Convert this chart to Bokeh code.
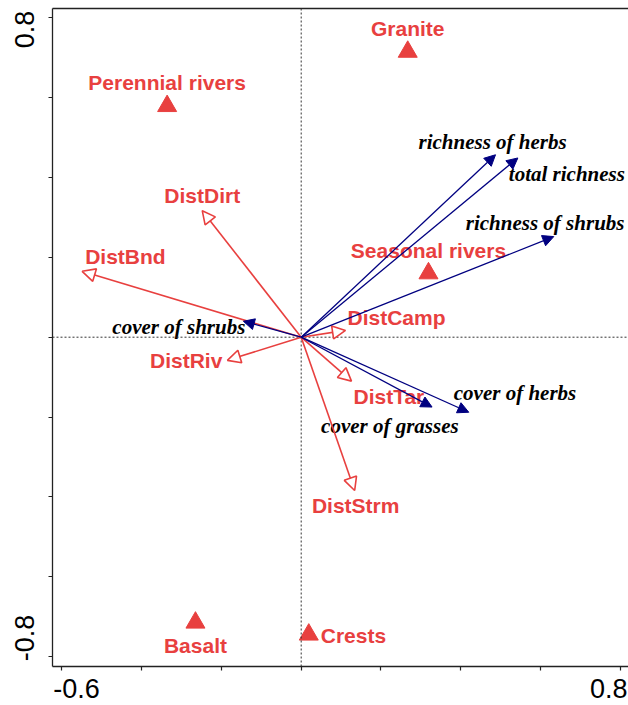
from bokeh.plotting import figure
from bokeh.models import (ColumnDataSource, Arrow, NormalHead, Span, LinearAxis,
                          FixedTicker, Range1d)
from bokeh.core.properties import value
from bokeh.embed import file_html
from bokeh.resources import INLINE

# ---------------- data ----------------
site_names = ["Granite", "Perennial rivers", "Seasonal rivers", "Basalt", "Crests"]
site_x = [0.267, -0.336, 0.319, -0.265, 0.019]
site_y = [0.715, 0.579, 0.160, -0.715, -0.745]

env_names = ["DistDirt", "DistBnd", "DistRiv", "DistCamp", "DistTar", "DistStrm"]
env_x = [-0.248, -0.549, -0.185, 0.111, 0.126, 0.134]
env_y = [0.317, 0.165, -0.058, 0.017, -0.110, -0.384]

sp_names = ["richness of herbs", "total richness", "richness of shrubs",
            "cover of shrubs", "cover of grasses", "cover of herbs"]
sp_x = [0.487, 0.543, 0.633, -0.145, 0.328, 0.420]
sp_y = [0.457, 0.449, 0.252, 0.040, -0.175, -0.188]

x_minor_ticks = [-0.6, -0.4, -0.2, 0.0, 0.2, 0.4, 0.6, 0.8]
y_minor_ticks = [-0.8, -0.6, -0.4, -0.2, 0.0, 0.2, 0.4, 0.6, 0.8]
x_tick_labels = ["-0.6", "0.8"]
y_tick_labels = ["0.8", "-0.8"]

# ---------------- layout / style ----------------
RED = "#e8403f"
NAVY = "#000080"
x_label_pos = [-0.563, 0.771]
y_label_pos = [0.771, -0.7535]

site_dx = [0, 0, 0, 0, 12]
site_dy = [-23, -24, -23, 23, 1]
site_align = ["center", "center", "center", "center", "left"]

env_dx = [0, 3, -5, 2, 2, 1]
env_dy = [-15, -15, 0, -13, 15, 15]
env_align = ["center", "left", "right", "left", "left", "center"]

sp_dx = [-77, -9, -88, 2, -111, -15]
sp_dy = [-13, 16, -14, 6, 19, -19]
sp_align = ["left", "left", "left", "right", "left", "left"]

p = figure(width=628, height=705, output_backend="svg", toolbar_location=None,
           x_range=Range1d(-0.6233, 0.8203), y_range=Range1d(-0.8249, 0.8234),
           x_axis_location=None, y_axis_location=None,
           min_border_left=52, min_border_right=0, min_border_top=8,
           min_border_bottom=39)
p.outline_line_color = None
p.xgrid.visible = False
p.ygrid.visible = False
p.background_fill_color = "white"
p.border_fill_color = "white"

def style_axis(ax, font_size):
    ax.axis_line_color = "#222222"
    ax.axis_line_width = 1.3
    ax.major_tick_line_color = None
    ax.major_tick_out = 0
    ax.major_tick_in = 0
    ax.minor_tick_line_color = "#222222"
    ax.minor_tick_line_width = 1.2
    ax.minor_tick_out = 4
    ax.minor_tick_in = 0
    ax.major_label_text_font = "Liberation Sans"
    ax.major_label_text_font_size = font_size
    ax.major_label_text_color = "black"

xax = LinearAxis(ticker=FixedTicker(ticks=x_label_pos, minor_ticks=x_minor_ticks),
                 major_label_overrides={v: t for v, t in zip(x_label_pos, x_tick_labels)})
style_axis(xax, "27px")
xax.major_label_standoff = 8
p.add_layout(xax, "below")

yax = LinearAxis(ticker=FixedTicker(ticks=y_label_pos, minor_ticks=y_minor_ticks),
                 major_label_overrides={v: t for v, t in zip(y_label_pos, y_tick_labels)},
                 major_label_orientation="vertical")
style_axis(yax, "27px")
yax.major_label_standoff = 14
p.add_layout(yax, "left")

top = LinearAxis(ticker=FixedTicker(ticks=[]), axis_line_color="#222222",
                 axis_line_width=1.3, major_tick_line_color=None,
                 minor_tick_line_color=None, major_label_text_font_size="0px",
                 major_tick_out=0, major_label_standoff=0)
p.add_layout(top, "above")

p.add_layout(Span(location=0, dimension="height", line_color="#333333",
                  line_dash="2 2", line_width=1))
p.add_layout(Span(location=0, dimension="width", line_color="#333333",
                  line_dash="2 2", line_width=1))

# environmental arrows (red, open heads)
env_src = ColumnDataSource(dict(x0=[0.0] * len(env_x), y0=[0.0] * len(env_y),
                                x1=env_x, y1=env_y, name=env_names,
                                dx=env_dx, dy=env_dy, align=env_align))
p.add_layout(Arrow(source=env_src, x_start="x0", y_start="y0", x_end="x1", y_end="y1",
                   line_color=RED, line_width=1.6,
                   end=NormalHead(size=13, fill_color="white", line_color=RED,
                                  line_width=1.6)))

# species arrows (navy, filled heads)
sp_src = ColumnDataSource(dict(x0=[0.0] * len(sp_x), y0=[0.0] * len(sp_y),
                               x1=sp_x, y1=sp_y, name=sp_names,
                               dx=sp_dx, dy=sp_dy, align=sp_align))
p.add_layout(Arrow(source=sp_src, x_start="x0", y_start="y0", x_end="x1", y_end="y1",
                   line_color=NAVY, line_width=1.3,
                   end=NormalHead(size=11, fill_color=NAVY, line_color=NAVY,
                                  line_width=1)))

# sites (red triangles)
site_src = ColumnDataSource(dict(x=site_x, y=site_y, name=site_names,
                                 dx=site_dx, dy=site_dy, align=site_align))
p.scatter("x", "y", source=site_src, marker="triangle", size=19,
          fill_color=RED, line_color=RED)

p.text("x", "y", text="name", source=site_src, x_offset="dx", y_offset="dy",
       text_align="align", text_baseline="middle", text_color=RED,
       text_font=value("Liberation Sans"), text_font_style="bold",
       text_font_size="21px")
p.text("x1", "y1", text="name", source=env_src, x_offset="dx", y_offset="dy",
       text_align="align", text_baseline="middle", text_color=RED,
       text_font=value("Liberation Sans"), text_font_style="bold",
       text_font_size="21px")
p.text("x1", "y1", text="name", source=sp_src, x_offset="dx", y_offset="dy",
       text_align="align", text_baseline="middle", text_color="black",
       text_font=value("Liberation Serif"), text_font_style="bold italic",
       text_font_size="21px")

open("out.html", "w").write(file_html(p, INLINE))
